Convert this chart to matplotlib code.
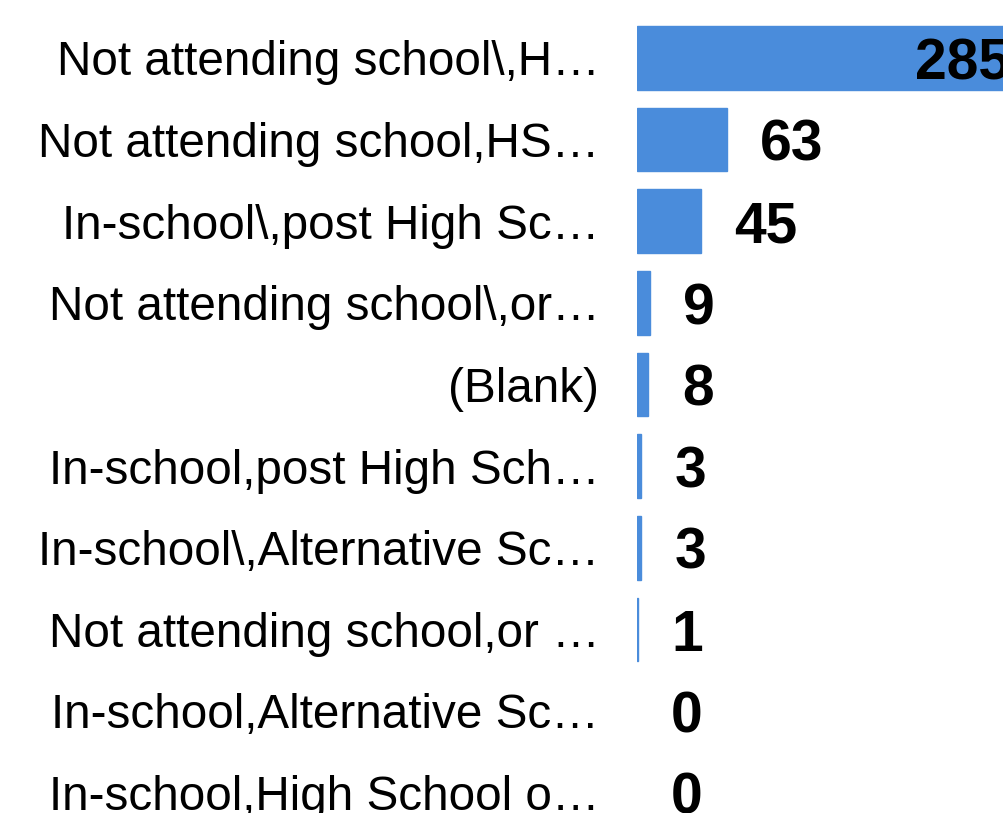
import matplotlib
matplotlib.use("Agg")
import matplotlib.pyplot as plt

# data
labels = [
    "Not attending school\\,H…",
    "Not attending school,HS…",
    "In-school\\,post High Sc…",
    "Not attending school\\,or…",
    "(Blank)",
    "In-school,post High Sch…",
    "In-school\\,Alternative Sc…",
    "Not attending school,or …",
    "In-school,Alternative Sc…",
    "In-school,High School o…",
]
counts = [285, 63, 45, 9, 8, 3, 3, 1, 0, 0]

bar_color = "#4A8CDB"

plt.rcParams['font.family'] = ['Liberation Sans', 'DejaVu Sans']

fig = plt.figure(figsize=(10.04, 8.13), dpi=100)
ax = fig.add_axes([637 / 1004, 0, 367 / 1004, 1])

pos = list(range(len(labels)))
# thin edge so the tiny bars stay visible, none for zero
lws = [1.0 if v > 0 else 0 for v in counts]
ax.barh(pos, counts, height=0.78, color=bar_color, edgecolor=bar_color, linewidth=lws)

ax.set_xlim(0, 257)
ax.set_ylim(9.25, -0.71)

ax.set_yticks(pos)
ax.set_yticklabels(labels, fontsize=34.3)
ax.tick_params(axis='y', length=0, pad=27)
ax.set_xticks([])
for s in ax.spines.values():
    s.set_visible(False)

xmax = ax.get_xlim()[1]
for y, v in zip(pos, counts):
    if v > xmax:
        # too long for the view: put the number inside the bar at the edge
        ax.annotate(str(v), xy=(1, y), xycoords=('axes fraction', 'data'),
                    xytext=(4, -4.5), textcoords='offset points',
                    ha='right', va='center', fontsize=41, fontweight='bold',
                    annotation_clip=False)
    else:
        ax.annotate(str(v), xy=(v, y), xytext=(24, -4.5), textcoords='offset points',
                    ha='left', va='center', fontsize=41, fontweight='bold')

fig.savefig("out.png", dpi=100)
